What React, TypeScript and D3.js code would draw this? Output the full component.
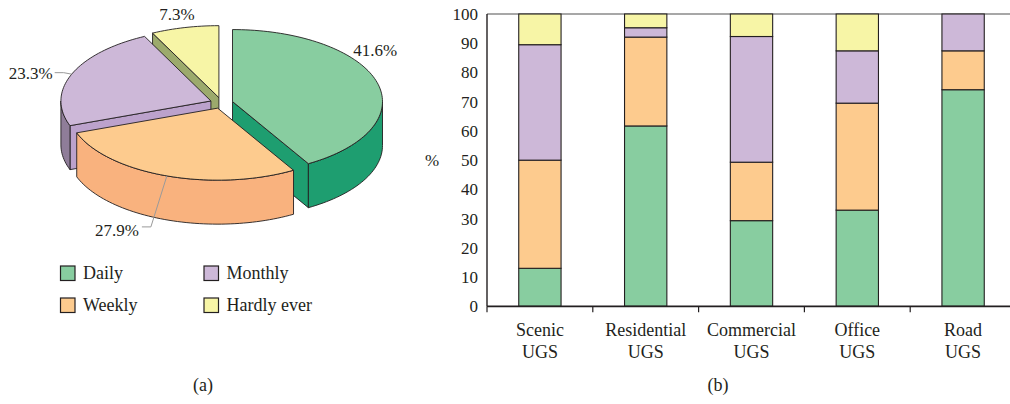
import React from "react";
import * as d3 from "d3";

// ---- data ----
const freqLabels = ["Daily", "Weekly", "Monthly", "Hardly ever"];
const pieValues = [41.6, 27.9, 23.3, 7.3];

const categories = ["Scenic UGS", "Residential UGS", "Commercial UGS", "Office UGS", "Road UGS"];
const daily = [13, 61.7, 29.3, 32.9, 74.1];
const weekly = [37, 30.4, 20, 36.6, 13.3];
const monthly = [39.5, 3.2, 43, 17.9, 12.6];
const hardlyEver = [10.5, 4.7, 7.7, 12.6, 0];
const yTicks = [0, 10, 20, 30, 40, 50, 60, 70, 80, 90, 100];

// ---- styles ----
const topColors = ["#88cda0", "#fdcb8e", "#cdb8d8", "#f7f5a6"];
const wallColors = ["#1e9e70", "#f9b27e", "#8f7d99", "#a8a66e"];
const cutColors = ["#1e9e70", "#f9b27e", "#bca2cc", "#9caa6c"];
const FONT = "'Liberation Serif', 'Times New Roman', serif";
const INK = "#231f20";

const W = 1010, H = 404;

// pie geometry
const rx = 150, ry = 72, depth = 44;
const cx0 = 221.5, cy0 = 103, explode = 11.4;

type P = [number, number];
const pt = (c: P, a: number, dy = 0): P => [c[0] + rx * Math.sin(a), c[1] - ry * Math.cos(a) + dy];
const arcPts = (c: P, a1: number, a2: number, dy = 0): P[] => {
  const n = Math.max(2, Math.ceil(Math.abs(a2 - a1) / 0.03));
  return d3.range(n + 1).map(i => pt(c, a1 + ((a2 - a1) * i) / n, dy));
};
const poly = d3.line<P>().x(d => d[0]).y(d => d[1]);
const closed = (pts: P[]) => poly(pts) + "Z";

function Pie3D() {
  const arcs = d3.pie<number>().sort(null).value(d => d)(pieValues);
  const slices = arcs.map((a, i) => {
    const mid = (a.startAngle + a.endAngle) / 2;
    const c: P = [cx0 + explode * Math.sin(mid), cy0 - explode * (ry / rx) * Math.cos(mid)];
    return { i, s: a.startAngle, e: a.endAngle, mid, c };
  });
  const order = [...slices].sort((a, b) => a.c[1] - b.c[1]);

  // label offsets (relative to the rim point at the slice mid angle)
  const labelCfg = [
    { dx: -2, dy: -27, anchor: "middle", leader: null as P[] | null },
    { dx: -28, dy: 60, anchor: "end", leader: [[-16, 51], [-25, 51]] as P[] },
    { dx: -19, dy: 5, anchor: "end", leader: [[-8, -1.5], [-17, -1.5]] as P[] },
    { dx: -8, dy: -7.5, anchor: "middle", leader: null as P[] | null },
  ];

  return (
    <g>
      {order.map(sl => {
        const { i, s, e, c } = sl;
        const parts: JSX.Element[] = [];
        // cut face at start edge
        if (s > Math.PI + 1e-6 && s < 2 * Math.PI) {
          const p = pt(c, s);
          parts.push(
            <path key="cs" d={closed([c, p, [p[0], p[1] + depth], [c[0], c[1] + depth]])}
              fill={cutColors[i]} stroke={INK} strokeWidth={0.9} strokeLinejoin="round" />
          );
        }
        // cut face at end edge
        if (e > 1e-6 && e < Math.PI) {
          const p = pt(c, e);
          parts.push(
            <path key="ce" d={closed([c, p, [p[0], p[1] + depth], [c[0], c[1] + depth]])}
              fill={cutColors[i]} stroke={INK} strokeWidth={0.9} strokeLinejoin="round" />
          );
        }
        // outer wall (front half only)
        const w1 = Math.max(s, Math.PI / 2), w2 = Math.min(e, (3 * Math.PI) / 2);
        if (w2 > w1) {
          const top = arcPts(c, w1, w2);
          const bot = arcPts(c, w2, w1, depth);
          parts.push(
            <path key="w" d={closed([...top, ...bot])} fill={wallColors[i]}
              stroke={INK} strokeWidth={0.9} strokeLinejoin="round" />
          );
        }
        // top face
        parts.push(
          <path key="t" d={closed([c, ...arcPts(c, s, e)])} fill={topColors[i]}
            stroke={INK} strokeWidth={0.9} strokeLinejoin="round" />
        );
        return <g key={i}>{parts}</g>;
      })}
      {slices.map(sl => {
        const a = pt(sl.c, sl.mid);
        const cfg = labelCfg[sl.i];
        return (
          <g key={"l" + sl.i}>
            {cfg.leader && (
              <path d={poly([a, ...cfg.leader.map(o => [a[0] + o[0], a[1] + o[1]] as P)]) || ""}
                fill="none" stroke="#9a9a9a" strokeWidth={1} />
            )}
            <text x={a[0] + cfg.dx} y={a[1] + cfg.dy} textAnchor={cfg.anchor as any}
              fontFamily={FONT} fontSize={17} fill={INK}>
              {pieValues[sl.i].toFixed(1)}%
            </text>
          </g>
        );
      })}
    </g>
  );
}

function Legend() {
  const cols = [60.5, 204];
  const rows = [266, 298];
  // order in legend: Daily, Monthly (row 1) / Weekly, Hardly ever (row 2)
  return (
    <g>
      {freqLabels.map((lab, i) => {
        const col = i === 0 || i === 1 ? 0 : 1;
        const row = i === 0 || i === 2 ? 0 : 1;
        return (
          <g key={lab} transform={`translate(${cols[col]},${rows[row]})`}>
            <rect x={0} y={0} width={14.5} height={14.5} fill={topColors[i]} stroke={INK} strokeWidth={1.2} />
            <text x={22.5} y={12.5} fontFamily={FONT} fontSize={18} fill={INK}>{lab}</text>
          </g>
        );
      })}
    </g>
  );
}

function StackedBars() {
  const left = 487, right = 1016, top = 14, bottom = 306.3;
  const x = d3.scaleBand<string>().domain(categories).range([left, right]).paddingInner(0.6).paddingOuter(0.3);
  const y = d3.scaleLinear().domain([0, 100]).range([bottom, top]);
  const rows = categories.map((c, i) => ({
    cat: c, Daily: daily[i], Weekly: weekly[i], Monthly: monthly[i], "Hardly ever": hardlyEver[i],
  }));
  const series = d3.stack<any>().keys(freqLabels)(rows);
  const step = x.step(), bw = x.bandwidth();
  const bounds = categories.map(c => (x(c) as number) + bw / 2 - step / 2);

  return (
    <g>
      {/* top frame line */}
      <line x1={left} x2={right} y1={y(100)} y2={y(100)} stroke="#8a8a8a" strokeWidth={1.3} />
      {series.map((s, si) => (
        <g key={s.key}>
          {s.map((d, j) => (
            <rect key={j} x={x(categories[j])} y={y(d[1])} width={bw}
              height={Math.max(0, y(d[0]) - y(d[1]))}
              fill={topColors[si]} stroke={INK} strokeWidth={1.1} />
          ))}
        </g>
      ))}
      {/* axes */}
      <line x1={left} x2={left} y1={y(100)} y2={bottom} stroke={INK} strokeWidth={1.4} />
      <line x1={left} x2={right} y1={bottom} y2={bottom} stroke={INK} strokeWidth={1.8} />
      {bounds.map((b, i) => (
        <line key={i} x1={b} x2={b} y1={bottom} y2={bottom + 6} stroke={INK} strokeWidth={1.2} />
      ))}
      {yTicks.map(t => (
        <text key={t} x={left - 9} y={y(t)} dy="0.35em" textAnchor="end"
          fontFamily={FONT} fontSize={17} fill={INK}>{t}</text>
      ))}
      <text x={432} y={y(50)} dy="0.35em" textAnchor="middle" fontFamily={FONT} fontSize={17} fill={INK}>%</text>
      {categories.map(c => {
        const [l1, l2] = c.split(" ");
        const cx = (x(c) as number) + bw / 2;
        return (
          <text key={c} textAnchor="middle" fontFamily={FONT} fontSize={18} fill={INK}>
            <tspan x={cx} y={336}>{l1}</tspan>
            <tspan x={cx} y={358}>{l2}</tspan>
          </text>
        );
      })}
    </g>
  );
}

export default function App() {
  return (
    <svg width={W} height={H} viewBox={`0 0 ${W} ${H}`}
      style={{ position: "absolute", left: 0, top: 0, background: "#fff" }}>
      <rect x={0} y={0} width={W} height={H} fill="#fff" />
      <Pie3D />
      <Legend />
      <StackedBars />
      <text x={203} y={391} textAnchor="middle" fontFamily={FONT} fontSize={18} fill={INK}>(a)</text>
      <text x={718} y={391} textAnchor="middle" fontFamily={FONT} fontSize={18} fill={INK}>(b)</text>
    </svg>
  );
}
